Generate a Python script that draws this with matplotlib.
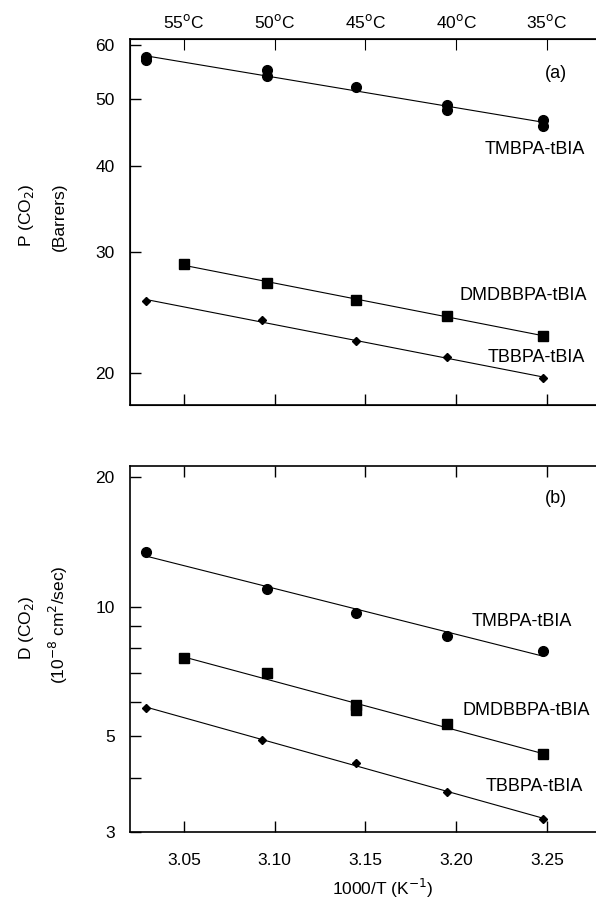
import matplotlib
matplotlib.use('Agg')
import matplotlib.pyplot as plt
import numpy as np
from matplotlib.ticker import FixedLocator, NullFormatter, NullLocator

plt.rcParams['font.family'] = ['Liberation Sans', 'DejaVu Sans']

# 1000/T positions of the measurements
x_std = [3.029, 3.096, 3.145, 3.195, 3.248]
x_dmd = [3.050, 3.096, 3.145, 3.195, 3.248]
x_tbb = [3.029, 3.093, 3.145, 3.195, 3.248]

# panel (a): permeability P(CO2), Barrers (TMBPA has duplicate runs)
p_tmbpa_x = [3.029, 3.029, 3.096, 3.096, 3.145, 3.195, 3.195, 3.248, 3.248]
p_tmbpa = [57.6, 57.1, 55.2, 54.0, 52.1, 49.0, 48.3, 46.7, 45.7]
p_dmdbbpa = [28.8, 27.1, 25.6, 24.2, 22.7]
p_tbbpa = [25.5, 23.9, 22.3, 21.1, 19.7]

# panel (b): diffusivity D(CO2), 1e-8 cm2/s
d_tmbpa = [13.4, 11.0, 9.67, 8.56, 7.90]
d_dmdbbpa_x = [3.050, 3.096, 3.145, 3.145, 3.195, 3.248]
d_dmdbbpa = [7.60, 7.00, 5.90, 5.75, 5.34, 4.56]
d_tbbpa = [5.82, 4.91, 4.33, 3.72, 3.21]

x_ticks = [3.05, 3.10, 3.15, 3.20, 3.25]
x_ticklabels = ['3.05', '3.10', '3.15', '3.20', '3.25']
temp_labels = ['55$^{\\rm o}$C', '50$^{\\rm o}$C', '45$^{\\rm o}$C', '40$^{\\rm o}$C', '35$^{\\rm o}$C']

p_ticks = [20, 30, 40, 50, 60]
d_ticks = [3, 5, 10, 20]
d_minor = [4, 6, 7, 8, 9]

W, H = 596, 911
fig = plt.figure(figsize=(W / 100, H / 100), dpi=100)

left = 130 / W
width = 1.0 - left
ax1 = fig.add_axes([left, 1 - 405 / H, width, 366 / H])
ax2 = fig.add_axes([left, 1 - 832 / H, width, 366 / H])

xlim = (3.0203, 3.277)


def fit_line(ax, xs, ys):
    # straight line through the points on the log axis
    k, b = np.polyfit(xs, np.log(ys), 1)
    xx = np.array([min(xs), max(xs)])
    ax.plot(xx, np.exp(k * xx + b), color='k', lw=0.8, zorder=2)


def plot_series(ax, xs, ys, marker, ms):
    fit_line(ax, xs, ys)
    ax.plot(xs, ys, linestyle='none', marker=marker, ms=ms, color='k', zorder=3)


for ax in (ax1, ax2):
    ax.set_yscale('log')
    ax.set_xlim(*xlim)
    ax.spines['right'].set_visible(False)
    for s in ('left', 'top', 'bottom'):
        ax.spines[s].set_linewidth(1.2)
    ax.set_xticks(x_ticks)
    ax.tick_params(axis='both', which='both', direction='in', top=True, right=False,
                   labelsize=12.5, width=1.0)
    ax.tick_params(axis='x', which='major', length=8, pad=15)
    ax.tick_params(axis='y', which='major', length=8, pad=11)
    ax.tick_params(axis='y', which='minor', length=8)

# ---- panel (a)
plot_series(ax1, p_tmbpa_x, p_tmbpa, 'o', 7)
plot_series(ax1, x_dmd, p_dmdbbpa, 's', 6.5)
plot_series(ax1, x_tbb, p_tbbpa, 'D', 4.5)
ax1.set_ylim(18.0, 61.2)
ax1.yaxis.set_major_locator(FixedLocator(p_ticks))
ax1.yaxis.set_minor_locator(NullLocator())
ax1.set_yticklabels([str(v) for v in p_ticks])
ax1.tick_params(axis='x', labelbottom=False)

top = ax1.twiny()
top.set_xlim(*xlim)
top.set_xticks(x_ticks)
top.set_xticklabels(temp_labels)
top.spines['right'].set_visible(False)
top.tick_params(axis='x', direction='in', length=8, labelsize=12.5, pad=6)

ax1.text(0.869, 0.697, 'TMBPA-tBIA', transform=ax1.transAxes, ha='center', va='center', fontsize=13)
ax1.text(0.843, 0.300, 'DMDBBPA-tBIA', transform=ax1.transAxes, ha='center', va='center', fontsize=13)
ax1.text(0.871, 0.131, 'TBBPA-tBIA', transform=ax1.transAxes, ha='center', va='center', fontsize=13)
ax1.text(0.914, 0.907, '(a)', transform=ax1.transAxes, ha='center', va='center', fontsize=13)

fig.text(26 / W, 1 - 215 / H, 'P (CO$_2$)', rotation=90, ha='center', va='center', fontsize=12.5)
fig.text(59 / W, 1 - 217 / H, '(Barrers)', rotation=90, ha='center', va='center', fontsize=12.5)

# ---- panel (b)
plot_series(ax2, x_std, d_tmbpa, 'o', 7)
plot_series(ax2, d_dmdbbpa_x, d_dmdbbpa, 's', 6.5)
plot_series(ax2, x_tbb, d_tbbpa, 'D', 4.5)
ax2.set_ylim(3.0, 21.2)
ax2.yaxis.set_major_locator(FixedLocator(d_ticks))
ax2.yaxis.set_minor_locator(FixedLocator(d_minor))
ax2.yaxis.set_minor_formatter(NullFormatter())
ax2.set_yticklabels([str(v) for v in d_ticks])
ax2.set_xticklabels(x_ticklabels)
ax2.tick_params(axis='x', labeltop=False)

ax2.text(0.841, 0.574, 'TMBPA-tBIA', transform=ax2.transAxes, ha='center', va='center', fontsize=13)
ax2.text(0.850, 0.333, 'DMDBBPA-tBIA', transform=ax2.transAxes, ha='center', va='center', fontsize=13)
ax2.text(0.867, 0.123, 'TBBPA-tBIA', transform=ax2.transAxes, ha='center', va='center', fontsize=13)
ax2.text(0.914, 0.910, '(b)', transform=ax2.transAxes, ha='center', va='center', fontsize=13)

fig.text(26 / W, 1 - 628 / H, 'D (CO$_2$)', rotation=90, ha='center', va='center', fontsize=12.5)
fig.text(58 / W, 1 - 625 / H, '(10$^{-8}$ cm$^2$/sec)', rotation=90, ha='center', va='center', fontsize=12.5)

fig.text(383 / W, 1 - 888 / H, '1000/T (K$^{-1}$)', ha='center', va='center', fontsize=12.5)

fig.savefig('out.png', dpi=100)
